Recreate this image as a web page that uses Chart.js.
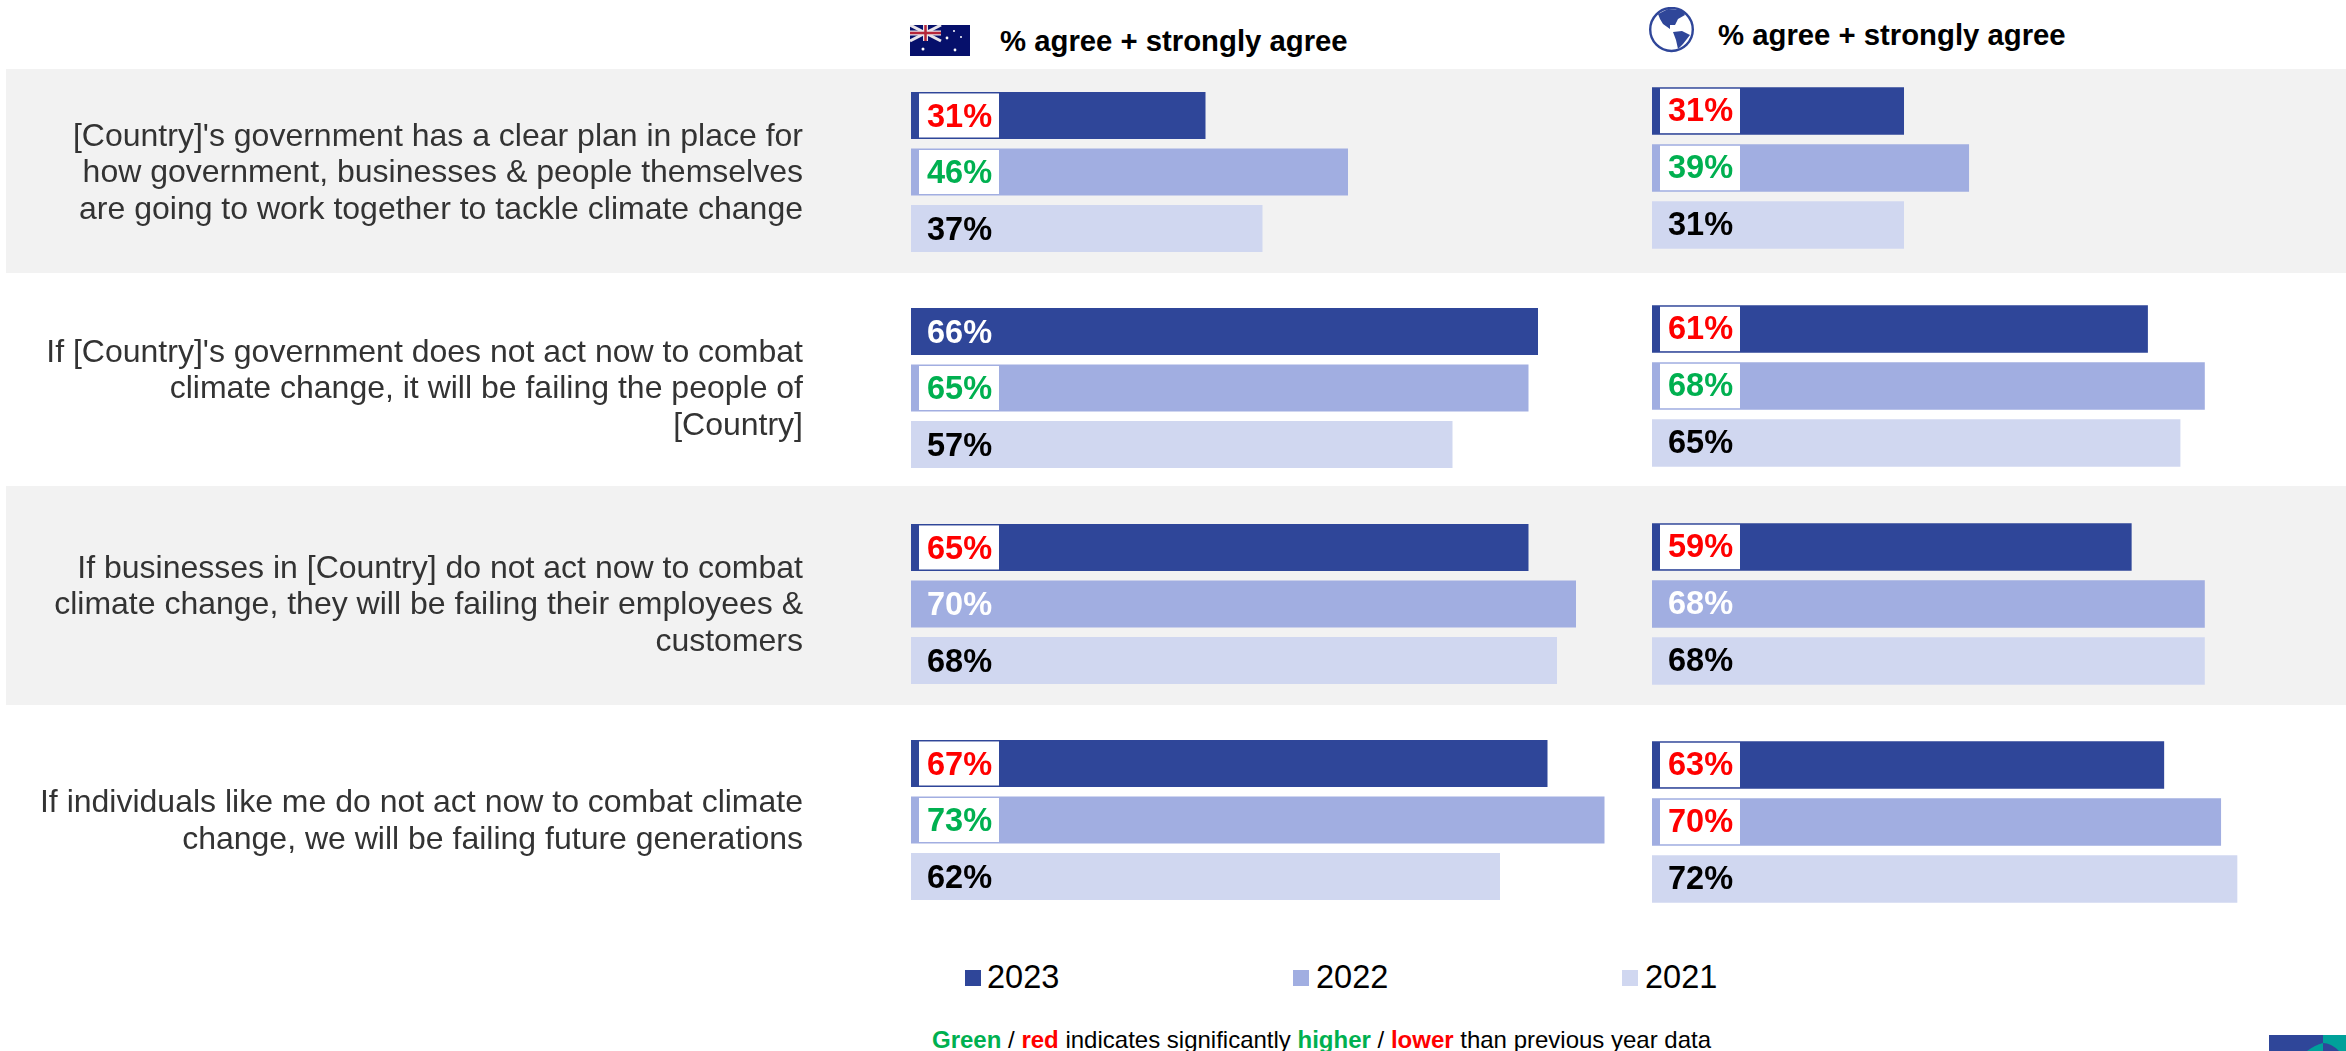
<!DOCTYPE html>
<html><head><meta charset="utf-8">
<style>
html,body{margin:0;padding:0;background:#fff;width:2346px;height:1051px;overflow:hidden;font-family:"Liberation Sans",Arial,sans-serif}
.band{position:absolute;left:6px;right:0;background:#f2f2f2}
canvas{position:absolute}
.hd{position:absolute;font-weight:bold;font-size:29.3px;color:#000;white-space:nowrap;line-height:32px}
#legend span.m{position:absolute;width:16px;height:16px}
#legend span.t{position:absolute;font-size:32.5px;line-height:36px;color:#000}
#foot{position:absolute;left:932px;top:1026px;font-size:24px;line-height:28px;white-space:nowrap;color:#000}
#foot b.g{color:#00b050}#foot b.r{color:#ff0000}
svg{position:absolute}
</style></head><body>
<div class="band" style="top:69px;height:204px"></div>
<div class="band" style="top:486px;height:219px"></div>

<svg style="left:910px;top:25px" width="60" height="31" viewBox="0 0 60 31">
<rect width="60" height="31" fill="#06106b"/>
<path d="M0 0L31 16M31 0L0 16" stroke="#e8e4ea" stroke-width="3"/>
<path d="M15.5 0V16M0 8H31" stroke="#e8e4ea" stroke-width="5"/>
<path d="M15.5 0V16M0 8H31" stroke="#b5263a" stroke-width="2.5"/>
<g fill="#fff"><circle cx="44" cy="6" r="1"/><circle cx="37" cy="13" r="1.4"/><circle cx="51" cy="12" r="1"/><circle cx="45" cy="25" r="1.4"/><circle cx="13" cy="24" r="1.5"/></g>
</svg>
<svg style="left:1649px;top:7px" width="46" height="46" viewBox="0 0 46 46">
<ellipse cx="22.5" cy="22.5" rx="21.3" ry="21.5" fill="#fff" stroke="#2f4699" stroke-width="2.4"/>
<path d="M9 7L19 2 33 3 36 8 29 12 26 18 21 18 21 22 14 17 11 12Z" fill="#2f4699"/>
<path d="M24 25L33 24 41 28 34 37 29 42 27 33Z" fill="#2f4699"/>
</svg>
<div class="hd" style="left:1000px;top:25px">% agree + strongly agree</div>
<div class="hd" style="left:1718px;top:19px">% agree + strongly agree</div>

<canvas id="au" style="left:0;top:64px"></canvas>
<canvas id="world" style="left:1140px;top:59px"></canvas>

<div id="legend"></div>
<div id="foot"><b class="g">Green</b> / <b class="r">red</b> indicates significantly <b class="g">higher</b> / <b class="r">lower</b> than previous year data</div>
<svg style="left:2269px;top:1035px" width="77" height="16" viewBox="0 0 77 16">
<rect width="77" height="16" fill="#2f4699"/><rect x="54" width="23" height="16" fill="#00a19a"/>
<path d="M38 16Q46 10 54 8V16Z" fill="#00a19a"/><path d="M54 8Q62 8 70 16H54Z" fill="#2f4699"/>
</svg>

<script src="https://cdn.jsdelivr.net/npm/chart.js@4/dist/chart.umd.min.js"></script>
<script>
const categories = [
  ["[Country]'s government has a clear plan in place for","how government, businesses & people themselves","are going to work together to tackle climate change"],
  ["If [Country]'s government does not act now to combat","climate change, it will be failing the people of","[Country]"],
  ["If businesses in [Country] do not act now to combat","climate change, they will be failing their employees &","customers"],
  ["If individuals like me do not act now to combat climate","change, we will be failing future generations"]
];
const years = ["2023","2022","2021"];
const colors = ["#2f4699","#a1aee1","#d0d7f0"];

const au2023 = [31,66,65,67];
const au2022 = [46,65,70,73];
const au2021 = [37,57,68,62];
const world2023 = [31,61,59,63];
const world2022 = [39,68,68,70];
const world2021 = [31,65,68,72];

// label state: r = significantly lower, g = significantly higher, w = white text, k = black text
const auMarks2023 = ["r","w","r","r"];
const auMarks2022 = ["g","g","w","g"];
const auMarks2021 = ["k","k","k","k"];
const worldMarks2023 = ["r","r","r","r"];
const worldMarks2022 = ["g","g","w","r"];
const worldMarks2021 = ["k","k","k","k"];

const markColor = {r:"#ff0000",g:"#00b050",w:"#ffffff",k:"#000000"};

const valueLabels = {
  id:"valueLabels",
  afterDatasetsDraw(chart,args,opts){
    const ctx = chart.ctx;
    chart.data.datasets.forEach((ds,di)=>{
      chart.getDatasetMeta(di).data.forEach((bar,i)=>{
        const m = ds.marks[i];
        const h = bar.height;
        if(m==="r"||m==="g"){
          ctx.fillStyle="#fff";
          ctx.fillRect(bar.base+8,bar.y-h/2+1.5,80,h-3);
        }
        ctx.fillStyle=markColor[m];
        ctx.font='bold 32.5px "Liberation Sans"';
        ctx.textAlign="left";ctx.textBaseline="middle";
        ctx.fillText(ds.data[i]+"%",bar.base+16,bar.y+opts.dy);
      });
    });
  }
};

function make(id,axisWidth,max,series,marks,showLabels,dy){
  const c=document.getElementById(id);
  return new Chart(c,{
    type:"bar",
    data:{labels:categories,datasets:series.map((d,i)=>({
      label:years[i],data:d,marks:marks[i],backgroundColor:colors[i],
      barPercentage:0.832,categoryPercentage:0.785
    }))},
    options:{
      indexAxis:"y",responsive:false,animation:false,
      layout:{padding:0},
      plugins:{legend:{display:false},tooltip:{enabled:false},title:{display:false},valueLabels:{dy:dy}},
      scales:{
        x:{min:0,max:max,display:false,grid:{display:false}},
        y:{
          grid:{display:false},border:{display:false},
          afterFit(s){s.width=axisWidth;s.paddingTop=0;s.paddingBottom=0;},
          ticks:{display:showLabels,color:"#333333",padding:100,labelOffset:1.5,
            font:{family:"Liberation Sans",size:32,lineHeight:1.145}}
        }
      }
    },
    plugins:[valueLabels]
  });
}
function size(id,w,h){const c=document.getElementById(id);c.width=w;c.height=h;c.style.width=w+"px";c.style.height=h+"px";}
size("au",1633,864);size("world",1203,872);
const auChart=make("au",911,76,[au2023,au2022,au2021],[auMarks2023,auMarks2022,auMarks2021],true,2.5);
const worldChart=make("world",512,85,[world2023,world2022,world2021],[worldMarks2023,worldMarks2022,worldMarks2021],false,1);

const lx=[965,1293,1622];
const lg=document.getElementById("legend");
auChart.data.datasets.forEach((ds,i)=>{
  const m=document.createElement("span");m.className="m";m.style.cssText=`left:${lx[i]}px;top:970px;background:${ds.backgroundColor}`;
  const t=document.createElement("span");t.className="t";t.textContent=ds.label;t.style.cssText=`left:${lx[i]+22+(i?1:0)}px;top:959px`;
  lg.append(m,t);
});
</script>
</body></html>
